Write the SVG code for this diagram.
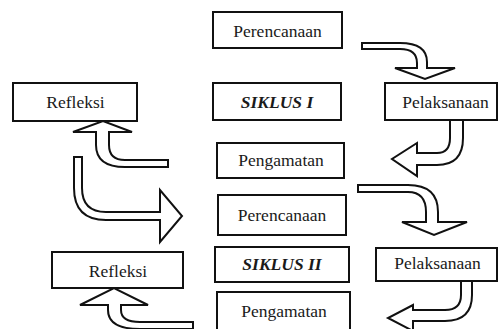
<svg xmlns="http://www.w3.org/2000/svg" width="498" height="329" viewBox="0 0 498 329">
<style>
.box rect{fill:#fff;stroke:#111;stroke-width:2}
.box text{font-family:"Liberation Serif","Times New Roman",serif;font-size:17.5px;fill:#1a1a1a;text-anchor:middle}
.box text.b{font-weight:bold;font-style:italic}
.arr path{fill:#fff;stroke:#111;stroke-width:2;stroke-linejoin:miter}
</style>
<rect width="498" height="329" fill="#fff"/>
<g id="connectors" class="arr">
<path id="a1" d="M362,43 H400 Q427,43 427,62 V68 H455 L425,79 L395,68 H417 V63 Q417,49 400,49 H362 Z"/>
<path id="a2" d="M450,120 H463 V138 Q463,165 437,165 H417 V176 L392,159 L417,143 V153 H437 Q450,153 450,138 Z"/>
<path id="a3" d="M168,160 H125 Q109,160 109,145 V132 H132 L103,121 L73,132 H96 V145 Q96,167 125,167 H168 Z"/>
<path id="a4" d="M74,157 H82 V188 Q82,212 106,212 H160 V190 L182,216 L160,242 V220 H106 Q74,220 74,188 Z"/>
<path id="a5" d="M358,185 H408 Q438,185 438,212 V222 H467 L434,235 L402,222 H426 V212 Q426,192 408,192 H358 Z"/>
<path id="a6" d="M461,281 H472 V295 Q472,321 445,321 H413 V331 L388,318 L413,305 V310 H445 Q461,310 461,295 Z"/>
<path id="a7" d="M193,322 H140 Q121,322 121,310 V305 H148 L114,288 L80,305 H108 V310 Q108,329 140,329 H193 Z"/>
</g>
<g id="perencanaan1" class="box"><rect x="213" y="12" width="129" height="36"/><text x="277.5" y="37">Perencanaan</text></g>
<g id="siklus1" class="box"><rect x="213" y="83" width="128" height="37"/><text class="b" x="277" y="108">SIKLUS I</text></g>
<g id="pelaksanaan1" class="box"><rect x="385" y="83" width="112" height="37"/><text x="445.5" y="108">Pelaksanaan</text></g>
<g id="refleksi1" class="box"><rect x="13" y="83" width="124" height="38"/><text x="75.5" y="108">Refleksi</text></g>
<g id="pengamatan1" class="box"><rect x="217" y="143" width="127" height="35"/><text x="281" y="166">Pengamatan</text></g>
<g id="perencanaan2" class="box"><rect x="218" y="195" width="128" height="40"/><text x="282" y="221">Perencanaan</text></g>
<g id="siklus2" class="box"><rect x="215" y="247" width="134" height="35"/><text class="b" x="282" y="270">SIKLUS II</text></g>
<g id="pelaksanaan2" class="box"><rect x="376" y="248" width="121" height="33"/><text x="437.5" y="269">Pelaksanaan</text></g>
<g id="refleksi2" class="box"><rect x="52" y="252" width="131" height="36"/><text x="118" y="277">Refleksi</text></g>
<g id="pengamatan2" class="box"><rect x="217" y="292" width="133" height="40"/><text x="284" y="317">Pengamatan</text></g>
</svg>
